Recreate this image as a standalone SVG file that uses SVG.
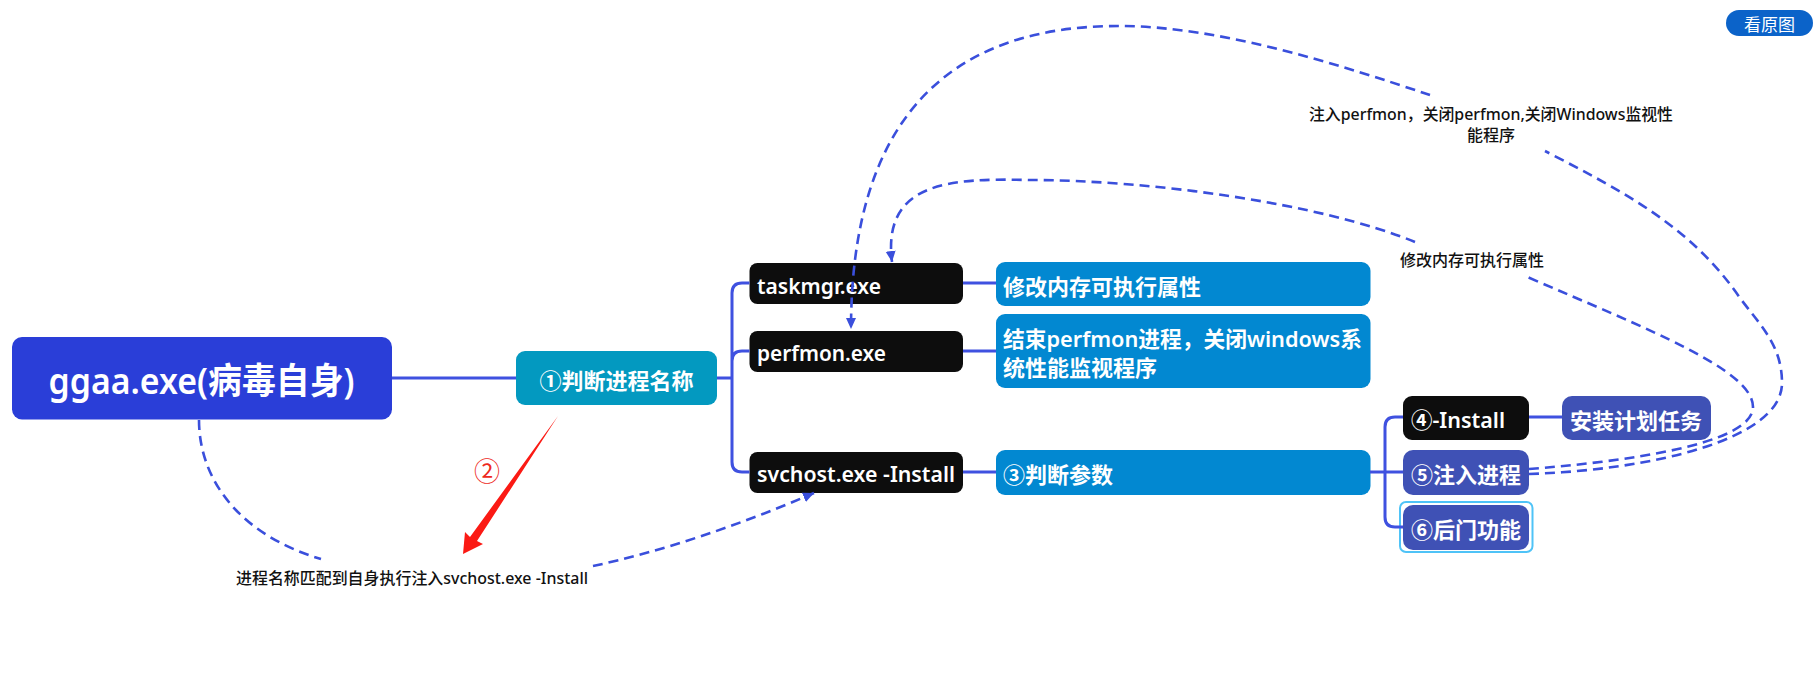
<svg xmlns="http://www.w3.org/2000/svg" width="1819" height="681" viewBox="0 0 1819 681">
<defs>
<marker id="arrow" markerUnits="userSpaceOnUse" markerWidth="12" markerHeight="12" refX="11" refY="6" orient="auto"><path d="M0 1 L11 6 L0 11 Z" fill="#3a4fdc"/></marker>
</defs>
<style>
text{font-family:"Noto Sans","Noto Sans CJK SC",sans-serif;}
.n{fill:#fff;font-weight:600;font-size:22px;dominant-baseline:central;}
.l{fill:#111;font-size:16px;font-weight:500;dominant-baseline:central;}
.m{text-anchor:middle;}
.s{fill:none;stroke:#3f51e0;stroke-width:3;}
.d{fill:none;stroke:#3a4fdc;stroke-width:2.6;stroke-dasharray:10 6;}
.blk{fill:#0d0d0d;}.blu{fill:#0288d1;}.ind{fill:#3f51b5;}
</style>
<rect width="1819" height="681" fill="#fff"/>
<g id="root"><rect x="12" y="337" width="380" height="82.5" rx="10" fill="#2a3ed8"/><text class="n" x="48.5" y="380" style="font-size:36px" textLength="306" lengthAdjust="spacingAndGlyphs">ggaa.exe(病毒自身)</text></g>
<g id="n1"><rect x="516" y="351" width="201" height="54" rx="9" fill="#0399c0"/><text class="n m" x="616.5" y="380">①判断进程名称</text></g>
<g id="taskmgr"><rect class="blk" x="749.5" y="263" width="213.5" height="41" rx="8"/><text class="n" x="757" y="285" textLength="124" lengthAdjust="spacingAndGlyphs">taskmgr.exe</text></g>
<g id="perfmon"><rect class="blk" x="749.5" y="331" width="213.5" height="41" rx="8"/><text class="n" x="757" y="352" textLength="129" lengthAdjust="spacingAndGlyphs">perfmon.exe</text></g>
<g id="svchost"><rect class="blk" x="749.5" y="452" width="213.5" height="41" rx="8"/><text class="n" x="757" y="473" textLength="198" lengthAdjust="spacingAndGlyphs">svchost.exe -Install</text></g>
<g id="b1"><rect class="blu" x="996" y="262" width="374.5" height="44" rx="9"/><text class="n" x="1003" y="286">修改内存可执行属性</text></g>
<g id="b2"><rect class="blu" x="996" y="314" width="374.5" height="74" rx="9"/><text class="n" x="1003" y="338" textLength="359" lengthAdjust="spacingAndGlyphs">结束perfmon进程，关闭windows系</text><text class="n" x="1003" y="367">统性能监视程序</text></g>
<g id="b3"><rect class="blu" x="996" y="450" width="374.5" height="45" rx="9"/><text class="n" x="1003" y="474">③判断参数</text></g>
<g id="install"><rect class="blk" x="1403" y="396" width="126" height="44" rx="9"/><text class="n" x="1411" y="419" textLength="94" lengthAdjust="spacingAndGlyphs">④-Install</text></g>
<g id="task"><rect class="ind" x="1562" y="396" width="149" height="44" rx="10"/><text class="n m" x="1636" y="420">安装计划任务</text></g>
<g id="inject"><rect class="ind" x="1403" y="450" width="126" height="45" rx="10"/><text class="n" x="1411" y="474">⑤注入进程</text></g>
<g id="backdoor"><rect x="1400" y="502" width="132.5" height="50" rx="6" fill="none" stroke="#4fc3f7" stroke-width="2"/><rect class="ind" x="1403" y="505" width="126" height="45" rx="10"/><text class="n" x="1411" y="529">⑥后门功能</text></g>
<g id="label1"><text class="l" x="236" y="578" textLength="352" lengthAdjust="spacingAndGlyphs">进程名称匹配到自身执行注入svchost.exe -Install</text></g>
<g id="label2"><text class="l" x="1309" y="114" textLength="364" lengthAdjust="spacingAndGlyphs">注入perfmon，关闭perfmon,关闭Windows监视性</text><text class="l m" x="1491" y="135">能程序</text></g>
<g id="label3"><text class="l" x="1400" y="260">修改内存可执行属性</text></g>
<g id="red-arrow"><path d="M558 416L477 541L483 544L463 554L465 532L470 537Z" fill="#fb1a14"/><text x="487" y="471" text-anchor="middle" dominant-baseline="central" style="font-size:26px" fill="#ee2a1c">②</text></g>
<g id="button"><rect x="1726" y="10" width="87" height="26" rx="13" fill="#0b63c9"/><text x="1769.5" y="24" text-anchor="middle" dominant-baseline="central" style="font-size:17px" fill="#fff">看原图</text></g>
<g id="connectors">
<path class="s" d="M392 378H516M717 378H732"/>
<path class="s" d="M749.5 283H742Q732 283 732 293V462Q732 472 742 472H749.5M749.5 351H742Q732 351 732 361"/>
<path class="s" d="M963 283H996M963 351H996M963 472H996M1370 472H1403"/>
<path class="s" d="M1403 417H1395Q1385 417 1385 427V517Q1385 527 1395 527H1403M1529 417H1562"/>
<path class="d" d="M199 420C199 480 240 535 321 559"/>
<path class="d" marker-end="url(#arrow)" d="M593 566C660 552 740 525 814 493"/>
<path class="d" d="M1529 469C1620 462 1753 445 1753 407C1753 370 1650 330 1525 276"/>
<path class="d" marker-end="url(#arrow)" d="M1415 242C1320 203 1150 180 1028 180C950 178 882 182 892 262"/>
<path class="d" d="M1529 474C1650 470 1782 440 1782 383C1782 345 1760 325 1740 298C1690 225 1620 190 1545 151"/>
<path class="d" marker-end="url(#arrow)" d="M1430 95C1340 65 1220 26 1119 26C1000 26 851 70 851 329"/>
</g>
</svg>
